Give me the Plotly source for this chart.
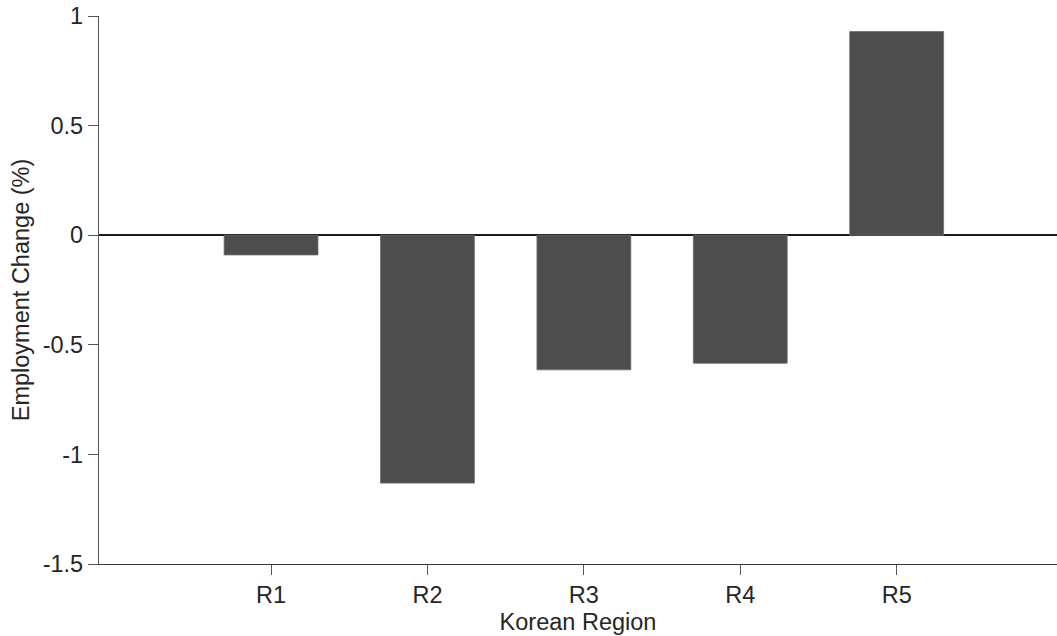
import plotly.graph_objects as go

regions = ["R1", "R2", "R3", "R4", "R5"]
employment_change = [-0.09, -1.131, -0.614, -0.584, 0.929]
y_ticks = [-1.5, -1, -0.5, 0, 0.5, 1]
y_tick_labels = ["-1.5", "-1", "-0.5", "0", "0.5", "1"]

text_color = "#262626"
font = dict(family="Liberation Sans, Arial, sans-serif", size=23.5, color=text_color)

fig = go.Figure(
    go.Bar(
        x=regions,
        y=employment_change,
        width=0.6,
        marker=dict(color="#4d4d4d", line=dict(color="#6a6a6a", width=0.8)),
        showlegend=False,
    )
)

fig.update_layout(
    width=1057,
    height=636,
    margin=dict(l=99, r=0, t=16, b=72),
    paper_bgcolor="white",
    plot_bgcolor="white",
    font=font,
    xaxis=dict(
        range=[-1.1, 5.025],
        showgrid=False,
        showline=True,
        linecolor="#3a3a3a",
        linewidth=1.2,
        ticks="outside",
        ticklen=10,
        tickwidth=1.2,
        tickcolor="#555555",
        tickfont=font,
        title=dict(text="Korean Region", font=font, standoff=6),
        zeroline=False,
    ),
    yaxis=dict(
        range=[-1.5, 1],
        tickvals=y_ticks,
        ticktext=y_tick_labels,
        ticklabeloverflow="allow",
        showgrid=False,
        showline=True,
        linecolor="#555555",
        linewidth=1.2,
        ticks="outside",
        ticklen=10,
        tickwidth=1.2,
        tickcolor="#555555",
        tickfont=font,
        title=dict(text="Employment Change (%)", font=font, standoff=6),
        zeroline=True,
        zerolinecolor="#1a1a1a",
        zerolinewidth=1.5,
    ),
)

fig.write_html(
    "out.html",
    config={"displayModeBar": False},
    post_script="document.body.style.margin='0';document.body.style.overflow='hidden';",
)
